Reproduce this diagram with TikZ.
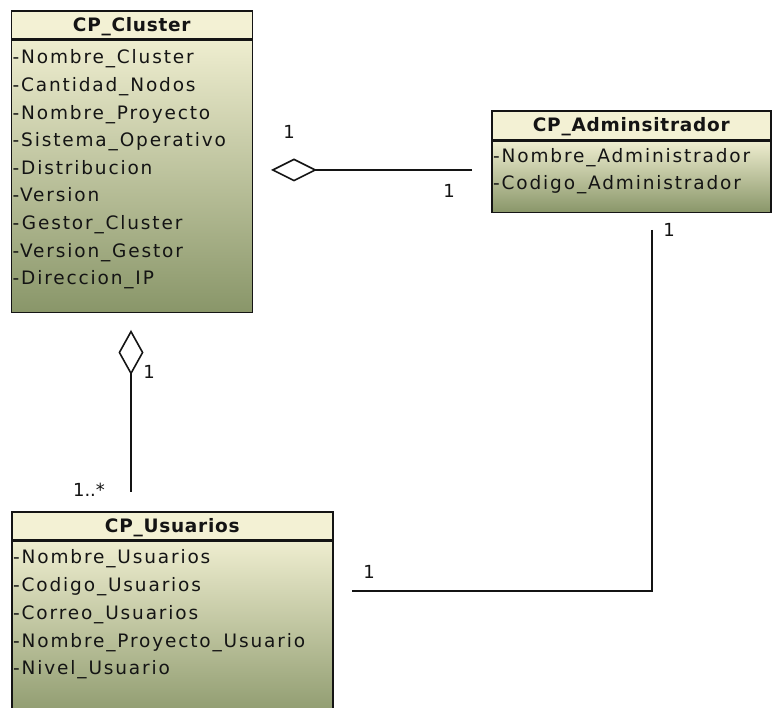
\documentclass[tikz,border=0pt]{standalone}
\usepackage{fontspec}
\setmainfont{DejaVu Sans}
\usetikzlibrary{arrows.meta}

\definecolor{headfill}{HTML}{F3F1D4}
\definecolor{bodytop}{HTML}{EEEDCF}
\definecolor{bodybot}{HTML}{899669}
\definecolor{ink}{HTML}{141414}

\tikzset{
  classhead/.style={draw=ink, line width=1.6pt, fill=headfill, anchor=north west,
    inner sep=0pt, text height=13pt, text depth=0pt, text=ink,
    font=\fontsize{18.5}{20}\selectfont\bfseries\addfontfeature{LetterSpace=4}},
  classbody/.style={draw=ink, line width=1.6pt, top color=bodytop, bottom color=bodybot,
    anchor=north west, inner sep=0pt},
  attr/.style={anchor=base west, inner sep=0pt, text=ink,
    font=\fontsize{18.5}{20}\selectfont\addfontfeature{LetterSpace=10}},
  mult/.style={anchor=center, inner sep=0pt, text=ink, font=\fontsize{18}{20}\selectfont},
  link/.style={draw=ink, line width=1.6pt},
}

\begin{document}
\begin{tikzpicture}[x=1pt, y=-1pt]
  \clip (0,0) rectangle (772,708);
  \fill[white] (0,0) rectangle (772,708);

  % CP_Cluster
  \node[classhead, minimum width=241pt, minimum height=28pt] (clH) at (10.5,10) {CP\_Cluster};
  \node[classbody, minimum width=241pt, minimum height=272pt] (clB) at (clH.south west) {};
  \foreach \t [count=\i from 0] in {-Nombre\_Cluster, -Cantidad\_Nodos, -Nombre\_Proyecto,
      -Sistema\_Operativo, -Distribucion, -Version, -Gestor\_Cluster, -Version\_Gestor,
      -Direccion\_IP}
    \node[attr] (cl\i) at (12.5, 64+27.6*\i) {\t};

  % CP_Adminsitrador
  \node[classhead, minimum width=279pt, minimum height=29pt] (adH) at (491,110) {CP\_Adminsitrador};
  \node[classbody, minimum width=279pt, minimum height=71pt] (adB) at (adH.south west) {};
  \foreach \t [count=\i from 0] in {-Nombre\_Administrador, -Codigo\_Administrador}
    \node[attr] (ad\i) at (493, 163+27*\i) {\t};

  % CP_Usuarios
  \node[classhead, minimum width=321pt, minimum height=28pt] (usH) at (11,511) {CP\_Usuarios};
  \node[classbody, minimum width=321pt, minimum height=185pt] (usB) at (usH.south west) {};
  \foreach \t [count=\i from 0] in {-Nombre\_Usuarios, -Codigo\_Usuarios, -Correo\_Usuarios,
      -Nombre\_Proyecto\_Usuario, -Nivel\_Usuario}
    \node[attr] (us\i) at (13, 564+27.7*\i) {\t};

  % connector end points
  \coordinate (aggA) at (271,170);
  \coordinate (admL) at (472,170);
  \coordinate (aggB) at (131,330);
  \coordinate (usrT) at (131,492);
  \coordinate (admB) at (652,230);
  \coordinate (bend) at (652,591);
  \coordinate (usrR) at (352,591);

  % aggregation Adminsitrador -> Cluster
  \draw[link, -{Diamond[open, length=46pt, width=23pt, line width=1.6pt]}] (admL) -- (aggA);
  % aggregation Usuarios -> Cluster
  \draw[link, -{Diamond[open, length=45pt, width=25pt, line width=1.6pt]}] (usrT) -- (aggB);
  % association Adminsitrador -- Usuarios
  \draw[link] (admB) -- (bend) -- (usrR);

  % multiplicities
  \node[mult] (m1) at (289,132) {1};
  \node[mult] (m2) at (449,191) {1};
  \node[mult] (m3) at (669,230) {1};
  \node[mult] (m4) at (149,372) {1};
  \node[mult] (m5) at (89,490) {1..*};
  \node[mult] (m6) at (369,572) {1};
\end{tikzpicture}
\end{document}
